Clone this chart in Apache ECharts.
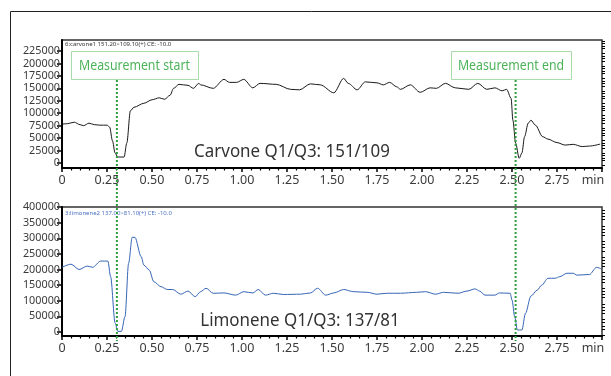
<!DOCTYPE html>
<html><head><meta charset="utf-8">
<script src="https://cdn.jsdelivr.net/npm/echarts@6/dist/echarts.min.js"></script>
<style>html,body{margin:0;padding:0;background:#fff}#c{width:611px;height:376px}</style>
</head><body><div id="c"></div>
<script>
// ---- data ----
const carvoneT = [0.0,0.03,0.068,0.1,0.12,0.15,0.18,0.21,0.25,0.265,0.28,0.295,0.31,0.345,0.36,0.38,0.4,0.455,0.5,0.54,0.57,0.6,0.62,0.65,0.7,0.73,0.76,0.77,0.84,0.9,0.93,0.97,1.01,1.06,1.10,1.19,1.27,1.32,1.38,1.435,1.51,1.565,1.59,1.64,1.685,1.75,1.785,1.82,1.86,1.88,1.935,1.99,2.045,2.08,2.13,2.185,2.26,2.31,2.36,2.405,2.445,2.47,2.495,2.505,2.52,2.54,2.555,2.57,2.59,2.605,2.63,2.67,2.70,2.75,2.795,2.84,2.89,2.93,2.99];
const carvoneV = [78000,79000,82000,77000,75000,80000,77000,76000,76000,72000,45000,20000,12000,12000,40000,105000,112000,120000,127000,131000,128000,136000,150000,158000,156000,150000,160000,157000,150000,168000,162000,162000,168000,151000,160000,158000,148000,147000,159000,157000,141000,170000,160000,147000,163000,161000,157000,162000,153000,148000,157000,142000,151000,150000,160000,151000,148000,160000,148000,151000,145000,148000,130000,86000,40000,9500,20000,53000,80000,86000,76000,53000,48000,41000,36000,37500,33000,34000,38000];
const limoneneT = [0.0,0.05,0.095,0.14,0.17,0.215,0.255,0.27,0.295,0.31,0.33,0.35,0.37,0.39,0.405,0.44,0.455,0.485,0.51,0.55,0.585,0.615,0.66,0.70,0.74,0.77,0.80,0.84,0.90,0.965,1.01,1.06,1.09,1.13,1.175,1.23,1.325,1.38,1.42,1.465,1.51,1.565,1.62,1.695,1.75,1.805,1.88,1.97,2.02,2.075,2.12,2.2,2.25,2.295,2.32,2.35,2.405,2.43,2.49,2.5,2.515,2.53,2.555,2.575,2.605,2.64,2.665,2.70,2.74,2.765,2.805,2.84,2.86,2.93,2.97,2.995];
const limoneneV = [207000,217000,200000,211000,207000,227000,227000,177000,29000,2000,2000,49000,220000,303000,303000,241000,214000,198000,161000,145000,136000,136000,121000,131000,113000,129000,140000,124000,125000,118000,129000,125000,136000,118000,124000,120000,121000,125000,140000,118000,125000,136000,129000,127000,121000,124000,124000,127000,129000,121000,127000,124000,131000,138000,131000,118000,118000,125000,124000,102000,49000,6400,6400,60000,115000,134000,150000,172000,172000,177000,188000,188000,182000,184000,207000,202000];
const carvoneYTicks = [0,25000,50000,75000,100000,125000,150000,175000,200000,225000];
const carvoneYMinor = [-5000,5000,10000,15000,20000,30000,35000,40000,45000,55000,60000,65000,70000,80000,85000,90000,95000,105000,110000,115000,120000,130000,135000,140000,145000,155000,160000,165000,170000,180000,185000,190000,195000,205000,210000,215000,220000,230000,235000,240000,245000];
const limoneneYTicks = [0,50000,100000,150000,200000,250000,300000,350000,400000];
const limoneneYMinor = [-10000,10000,20000,30000,40000,60000,70000,80000,90000,110000,120000,130000,140000,160000,170000,180000,190000,210000,220000,230000,240000,260000,270000,280000,290000,310000,320000,330000,340000,360000,370000,380000,390000];
const xMin = 0, xMax = 3, xStep = 0.25;
const markerTimes = [0.305, 2.52];
const markerLabels = ['Measurement start', 'Measurement end'];
const carvoneTitle = 'Carvone Q1/Q3: 151/109';
const limoneneTitle = 'Limonene Q1/Q3: 137/81';
const carvoneHeader = '6:carvone1 151.20>109.10(+) CE: -10.0';
const limoneneHeader = '3:limonene2 137.00>81.10(+) CE: -10.0';

const pairs = (t, v) => t.map((x, i) => [x, v[i]]);

// ---- layout ----
const G1 = {left: 62, top: 40, right: 9, height: 128};
const G2 = {left: 62, top: 207, right: 9, height: 129};
const FONT = "'Noto Sans', sans-serif";

const chart = echarts.init(document.getElementById('c'), null, {renderer: 'canvas'});

function xAxisFor(gi) {
  return {
    type: 'value', gridIndex: gi, min: xMin, max: xMax, interval: xStep,
    axisLine: {show: true, onZero: false, lineStyle: {color: '#000', width: 2}},
    axisTick: {show: true, length: 4, lineStyle: {color: '#000', width: 1.5}},
    minorTick: {show: true, splitNumber: 5, length: 2.5, lineStyle: {color: '#000', width: 1.2}},
    splitLine: {show: false},
    axisLabel: {
      fontFamily: FONT, fontSize: 12.5, color: '#3a3a3a', margin: 6,
      formatter: v => v === xMax ? '{m|min}' : (v === 0 ? '0' : v.toFixed(2)),
      rich: {m: {fontFamily: FONT, fontSize: 12.5, color: '#3a3a3a', padding: [0, 18, 0, 0]}}
    }
  };
}
function yAxesFor(gi, mn, mx, majors, minors) {
  return [{
    type: 'value', gridIndex: gi, min: mn, max: mx,
    axisLine: {show: true, lineStyle: {color: '#000', width: 2}},
    axisTick: {show: true, length: 5, customValues: majors, lineStyle: {color: '#000', width: 1.5}},
    axisLabel: {customValues: majors, fontFamily: FONT, fontSize: 10.8, color: '#3a3a3a', margin: 2,
      formatter: v => String(Math.round(v))},
    splitLine: {show: false}
  }, {
    type: 'value', gridIndex: gi, min: mn, max: mx,
    axisLine: {show: false},
    axisTick: {show: true, length: 3, customValues: minors, lineStyle: {color: '#000', width: 1}},
    axisLabel: {show: false},
    splitLine: {show: false}
  }];
}

const option = {
  animation: false,
  backgroundColor: '#fff',
  grid: [
    Object.assign({show: true, borderColor: '#333', borderWidth: 1.5, backgroundColor: 'transparent'}, G1),
    Object.assign({show: true, borderColor: '#333', borderWidth: 1.5, backgroundColor: 'transparent'}, G2)
  ],
  xAxis: [xAxisFor(0), xAxisFor(1)],
  yAxis: [].concat(
    yAxesFor(0, -10045, 247100, carvoneYTicks, carvoneYMinor),
    yAxesFor(1, -12800, 400000, limoneneYTicks, limoneneYMinor)
  ),
  series: [{
    type: 'line', xAxisIndex: 0, yAxisIndex: 0, data: pairs(carvoneT, carvoneV),
    smooth: 0.3, smoothMonotone: 'x', showSymbol: false, symbol: 'none',
    lineStyle: {color: '#1a1a1a', width: 1}
  }, {
    type: 'line', xAxisIndex: 1, yAxisIndex: 2, data: pairs(limoneneT, limoneneV),
    smooth: 0.3, smoothMonotone: 'x', showSymbol: false, symbol: 'none',
    lineStyle: {color: '#3565b5', width: 1}
  }]
};
chart.setOption(option);

// annotations
const boxes = [{x: 71, y: 51, w: 127, h: 28}, {x: 451, y: 51, w: 120, h: 28}];
const g = [];
g.push({type: 'rect', shape: {x: 10.5, y: 11.5, width: 640, height: 400}, style: {fill: null, stroke: '#222', lineWidth: 1}, silent: true, z: 0});
markerTimes.forEach((t, i) => {
  const px = chart.convertToPixel({xAxisIndex: 0}, t);
  const b = boxes[i];
  g.push({type: 'rect', shape: {x: b.x + 0.5, y: b.y + 0.5, width: b.w, height: b.h},
    style: {fill: '#fff', stroke: '#a9dcab', lineWidth: 1}, z: 10});
  g.push({type: 'text', x: b.x + b.w / 2, y: b.y + b.h / 2 + 1, scaleX: 0.88,
    style: {text: markerLabels[i], fill: '#4db35a', font: "14px 'Noto Sans', sans-serif", align: 'center', verticalAlign: 'middle'}, z: 11});
  g.push({type: 'line', shape: {x1: px, y1: b.y + b.h + 1, x2: px, y2: G2.top + G2.height + 5},
    style: {stroke: '#2f9e3f', lineWidth: 2, lineDash: [2, 2]}, z: 12});
});
g.push({type: 'text', x: 292, y: 152, scaleX: 0.94, style: {text: carvoneTitle, fill: '#333', font: "18px 'Noto Sans', sans-serif", align: 'center', verticalAlign: 'middle'}, z: 5});
g.push({type: 'text', x: 300, y: 321, scaleX: 0.94, style: {text: limoneneTitle, fill: '#333', font: "18px 'Noto Sans', sans-serif", align: 'center', verticalAlign: 'middle'}, z: 5});
g.push({type: 'text', x: 65, y: 44, style: {text: carvoneHeader, fill: '#333', font: "6px 'Noto Sans', sans-serif", align: 'left', verticalAlign: 'middle'}, z: 5});
g.push({type: 'text', x: 65, y: 213, style: {text: limoneneHeader, fill: '#4a72c0', font: "6px 'Noto Sans', sans-serif", align: 'left', verticalAlign: 'middle'}, z: 5});
chart.setOption({graphic: g});
</script>
</body></html>
